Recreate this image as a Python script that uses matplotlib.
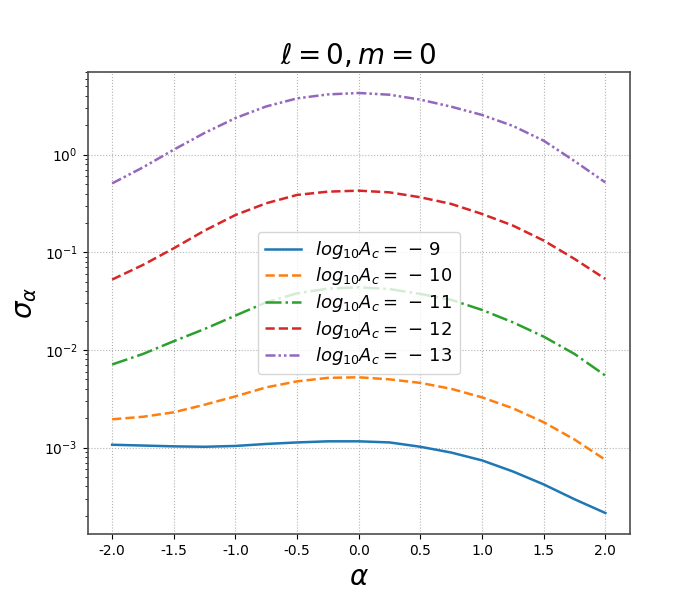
import numpy as np
import matplotlib
matplotlib.use("Agg")
import matplotlib.pyplot as plt

plt.rcParams['axes.unicode_minus'] = False

# valeurs
alpha = np.linspace(-2.0, 2.0, 17)
log_ac = [-9, -10, -11, -12, -13]

sigma_9 = [0.00107, 0.00105, 0.00103, 0.00102, 0.00104, 0.00109, 0.00113, 0.00116, 0.00116,
           0.00113, 0.00102, 0.00089, 0.00074, 0.00057, 0.00042, 0.000296, 0.000214]
sigma_10 = [0.00195, 0.00207, 0.0023, 0.00275, 0.00335, 0.00414, 0.00477, 0.00518, 0.00525,
            0.0050, 0.0046, 0.0040, 0.00327, 0.00253, 0.00182, 0.00121, 0.00075]
sigma_11 = [0.0071, 0.0091, 0.0123, 0.0164, 0.0225, 0.0308, 0.038, 0.0425, 0.0438,
            0.042, 0.0375, 0.0326, 0.0257, 0.0192, 0.0137, 0.0091, 0.00547]
sigma_12 = [0.0526, 0.0743, 0.11, 0.167, 0.241, 0.318, 0.387, 0.418, 0.428,
            0.411, 0.366, 0.313, 0.247, 0.188, 0.132, 0.0856, 0.0534]
sigma_13 = [0.508, 0.741, 1.125, 1.67, 2.37, 3.12, 3.77, 4.14, 4.28,
            4.11, 3.66, 3.10, 2.55, 1.97, 1.39, 0.86, 0.52]

series = [sigma_9, sigma_10, sigma_11, sigma_12, sigma_13]
styles = ['-', '--', '-.', '--', (0, (4, 1.2, 1, 1.2, 1, 1.2))]
colors = ['C0', 'C1', 'C2', 'C3', 'C4']

fig, ax = plt.subplots(figsize=(7, 6), dpi=100)
for s, ls, c, a in zip(series, styles, colors, log_ac):
    ax.plot(alpha, s, linestyle=ls, color=c, linewidth=1.8,
            label=r'$log_{10}A_c =\,-\,%d$' % abs(a))

ax.set_yscale('log')
ax.set_xticks(np.arange(-2.0, 2.01, 0.5))
ax.set_xticklabels(['%.1f' % v for v in np.arange(-2.0, 2.01, 0.5)])
ax.grid(True, linestyle=':', color='0.7')
for sp in ax.spines.values():
    sp.set_color('0.3')
    sp.set_linewidth(1.2)

ax.set_title(r'$\ell = 0, m = 0$', fontsize=20)
ax.set_xlabel(r'$\alpha$', fontsize=20)
ax.set_ylabel(r'$\sigma_\alpha$', fontsize=20)
ax.legend(loc='center', fontsize=13, labelspacing=0.25)

fig.savefig('out.png')
